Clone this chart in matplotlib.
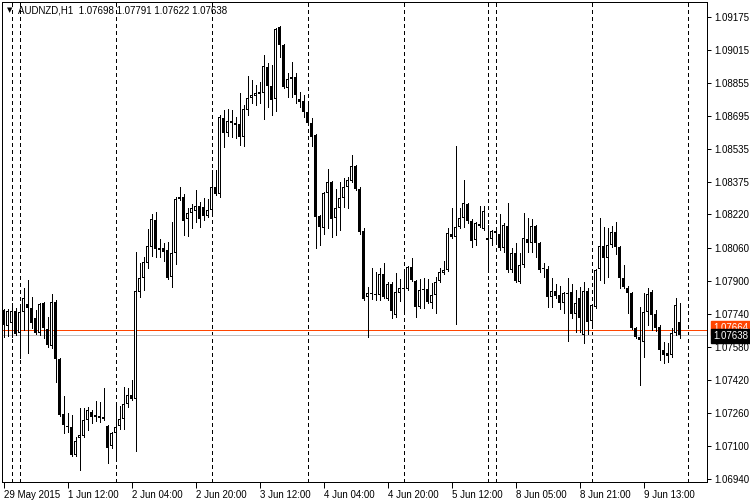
import matplotlib
matplotlib.use("Agg")
import matplotlib.pyplot as plt

plt.rcParams["font.family"] = ["Liberation Sans", "DejaVu Sans"]

# AUDNZD H1 bars, 29 May 2015 20:00 .. 9 Jun 2015 22:00
opens = [
    1.07759, 1.07681, 1.07696, 1.07754, 1.07648, 1.07749, 1.07788, 1.07768, 1.07720, 1.07648,
    1.07793, 1.07667, 1.07585, 1.07797, 1.07522, 1.07256, 1.07198, 1.07194, 1.07058, 1.07140,
    1.07150, 1.07227, 1.07266, 1.07242, 1.07247, 1.07242, 1.07198, 1.07102, 1.07165, 1.07198,
    1.07232, 1.07305, 1.07348, 1.07329, 1.07846, 1.07913, 1.07986, 1.08063, 1.08193, 1.08058,
    1.08058, 1.08048, 1.07918, 1.08034, 1.08295, 1.08304, 1.08198, 1.08227, 1.08237, 1.08261,
    1.08256, 1.08213, 1.08242, 1.08353, 1.08319, 1.08686, 1.08614, 1.08672, 1.08662, 1.08657,
    1.08594, 1.08725, 1.08783, 1.08792, 1.08812, 1.08807, 1.08932, 1.08841, 1.08778, 1.09126,
    1.09039, 1.08831, 1.08884, 1.08884, 1.08778, 1.08768, 1.08715, 1.08662, 1.08604, 1.08213,
    1.08155, 1.08324, 1.08377, 1.08203, 1.08251, 1.08300, 1.08353, 1.08382, 1.08454, 1.08343,
    1.08140, 1.07821, 1.07841, 1.07836, 1.07831, 1.07933, 1.07812, 1.07884, 1.07735, 1.07841,
    1.07865, 1.07860, 1.07966, 1.07899, 1.07773, 1.07860, 1.07860, 1.07793, 1.07831, 1.07899,
    1.07937, 1.07952, 1.08126, 1.08111, 1.08160, 1.08203, 1.08271, 1.08189, 1.08097, 1.08174,
    1.08150, 1.08106, 1.08102, 1.08140, 1.08126, 1.08058, 1.08164, 1.07952, 1.08034, 1.07894,
    1.07976, 1.08102, 1.08082, 1.08164, 1.08082, 1.07962, 1.07957, 1.07821, 1.07850, 1.07831,
    1.07793, 1.07841, 1.07846, 1.07739, 1.07817, 1.07638, 1.07850, 1.07706, 1.07773, 1.07957,
    1.08068, 1.08010, 1.08073, 1.08135, 1.08063, 1.07913, 1.07865, 1.07841, 1.07672, 1.07628,
    1.07604, 1.07749, 1.07846, 1.07739, 1.07677, 1.07565, 1.07551, 1.07541, 1.07648, 1.07698,
]
highs = [
    1.07764, 1.07764, 1.07793, 1.07768, 1.07768, 1.07865, 1.07904, 1.07821, 1.07759, 1.07793,
    1.07797, 1.07725, 1.07836, 1.07807, 1.07527, 1.07343, 1.07261, 1.07252, 1.07145, 1.07285,
    1.07285, 1.07290, 1.07276, 1.07319, 1.07314, 1.07382, 1.07203, 1.07169, 1.07314, 1.07295,
    1.07387, 1.07382, 1.07421, 1.08039, 1.07986, 1.08015, 1.08150, 1.08222, 1.08232, 1.08102,
    1.08082, 1.08087, 1.08184, 1.08304, 1.08353, 1.08319, 1.08251, 1.08271, 1.08338, 1.08280,
    1.08300, 1.08295, 1.08435, 1.08435, 1.08701, 1.08725, 1.08730, 1.08725, 1.08691, 1.08807,
    1.08749, 1.08889, 1.08870, 1.08845, 1.08860, 1.08990, 1.08952, 1.08942, 1.09121, 1.09130,
    1.09043, 1.08903, 1.08957, 1.08903, 1.08812, 1.08797, 1.08749, 1.08686, 1.08609, 1.08218,
    1.08329, 1.08440, 1.08382, 1.08343, 1.08377, 1.08396, 1.08401, 1.08507, 1.08459, 1.08353,
    1.08155, 1.07870, 1.07962, 1.07942, 1.07962, 1.07986, 1.07894, 1.07894, 1.07937, 1.07908,
    1.07937, 1.07971, 1.08010, 1.07904, 1.07908, 1.07913, 1.07908, 1.07889, 1.07918, 1.07962,
    1.07995, 1.08155, 1.08251, 1.08551, 1.08251, 1.08387, 1.08276, 1.08198, 1.08184, 1.08261,
    1.08261, 1.08169, 1.08145, 1.08150, 1.08222, 1.08179, 1.08276, 1.08058, 1.08082, 1.08034,
    1.08227, 1.08203, 1.08198, 1.08169, 1.08087, 1.07986, 1.07971, 1.07913, 1.07884, 1.07875,
    1.07846, 1.07913, 1.07884, 1.07855, 1.07870, 1.07894, 1.07865, 1.07788, 1.07957, 1.08203,
    1.08160, 1.08155, 1.08164, 1.08184, 1.08068, 1.07976, 1.07875, 1.07846, 1.07677, 1.07773,
    1.07841, 1.07865, 1.07855, 1.07759, 1.07686, 1.07604, 1.07599, 1.07672, 1.07817, 1.07791,
]
lows = [
    1.07628, 1.07633, 1.07628, 1.07638, 1.07527, 1.07662, 1.07551, 1.07672, 1.07643, 1.07638,
    1.07623, 1.07580, 1.07575, 1.07411, 1.07247, 1.07165, 1.07169, 1.07054, 1.07054, 1.06986,
    1.07145, 1.07179, 1.07213, 1.07223, 1.07218, 1.07227, 1.07020, 1.07092, 1.07034, 1.07184,
    1.07184, 1.07290, 1.07324, 1.07078, 1.07821, 1.07855, 1.07962, 1.08020, 1.08015, 1.08015,
    1.07995, 1.07908, 1.07870, 1.07981, 1.08290, 1.08121, 1.08116, 1.08155, 1.08184, 1.08160,
    1.08193, 1.08208, 1.08232, 1.08314, 1.08304, 1.08546, 1.08599, 1.08594, 1.08589, 1.08556,
    1.08551, 1.08701, 1.08759, 1.08749, 1.08759, 1.08681, 1.08739, 1.08701, 1.08720, 1.08981,
    1.08831, 1.08787, 1.08787, 1.08759, 1.08739, 1.08691, 1.08652, 1.08551, 1.08058, 1.08073,
    1.08126, 1.08155, 1.08111, 1.08121, 1.08145, 1.08256, 1.08251, 1.08377, 1.08338, 1.08126,
    1.07807, 1.07628, 1.07812, 1.07807, 1.07807, 1.07817, 1.07807, 1.07720, 1.07725, 1.07802,
    1.07749, 1.07855, 1.07899, 1.07725, 1.07768, 1.07768, 1.07793, 1.07768, 1.07744, 1.07894,
    1.07933, 1.07947, 1.08106, 1.07691, 1.08155, 1.08160, 1.08179, 1.08063, 1.08073, 1.08160,
    1.08145, 1.07962, 1.08073, 1.08097, 1.08048, 1.08039, 1.07942, 1.07942, 1.07894, 1.07889,
    1.07966, 1.08039, 1.08039, 1.08015, 1.07942, 1.07918, 1.07773, 1.07773, 1.07817, 1.07764,
    1.07744, 1.07609, 1.07720, 1.07652, 1.07652, 1.07599, 1.07643, 1.07691, 1.07768, 1.07904,
    1.07889, 1.07918, 1.08063, 1.08029, 1.07865, 1.07865, 1.07744, 1.07667, 1.07623, 1.07396,
    1.07532, 1.07686, 1.07662, 1.07657, 1.07517, 1.07503, 1.07508, 1.07532, 1.07638, 1.07622,
]
closes = [
    1.07686, 1.07754, 1.07754, 1.07643, 1.07749, 1.07817, 1.07768, 1.07696, 1.07648, 1.07788,
    1.07672, 1.07590, 1.07797, 1.07522, 1.07252, 1.07203, 1.07194, 1.07058, 1.07126, 1.07155,
    1.07227, 1.07276, 1.07242, 1.07252, 1.07237, 1.07232, 1.07092, 1.07165, 1.07194, 1.07232,
    1.07305, 1.07348, 1.07329, 1.07850, 1.07913, 1.07991, 1.08068, 1.08198, 1.08053, 1.08048,
    1.08039, 1.07913, 1.08034, 1.08295, 1.08304, 1.08189, 1.08227, 1.08251, 1.08261, 1.08198,
    1.08213, 1.08242, 1.08353, 1.08319, 1.08691, 1.08614, 1.08672, 1.08662, 1.08652, 1.08594,
    1.08730, 1.08783, 1.08797, 1.08807, 1.08802, 1.08937, 1.08841, 1.08773, 1.09116, 1.09039,
    1.08836, 1.08874, 1.08874, 1.08797, 1.08763, 1.08715, 1.08662, 1.08594, 1.08208, 1.08160,
    1.08324, 1.08377, 1.08198, 1.08251, 1.08300, 1.08353, 1.08387, 1.08454, 1.08343, 1.08135,
    1.07812, 1.07841, 1.07836, 1.07831, 1.07933, 1.07821, 1.07884, 1.07754, 1.07846, 1.07865,
    1.07860, 1.07966, 1.07904, 1.07773, 1.07855, 1.07855, 1.07797, 1.07831, 1.07894, 1.07942,
    1.07952, 1.08131, 1.08111, 1.08160, 1.08203, 1.08276, 1.08189, 1.08092, 1.08179, 1.08164,
    1.08237, 1.08097, 1.08140, 1.08131, 1.08058, 1.08169, 1.07952, 1.08034, 1.07899, 1.07976,
    1.08106, 1.08082, 1.08164, 1.08082, 1.07952, 1.07957, 1.07821, 1.07850, 1.07826, 1.07793,
    1.07841, 1.07836, 1.07739, 1.07793, 1.07720, 1.07850, 1.07701, 1.07783, 1.07952, 1.08068,
    1.08010, 1.08073, 1.08135, 1.08063, 1.07913, 1.07870, 1.07841, 1.07672, 1.07628, 1.07614,
    1.07749, 1.07836, 1.07735, 1.07672, 1.07565, 1.07541, 1.07537, 1.07648, 1.07783, 1.07638,
]

tick_idx = [0, 16, 32, 48, 64, 80, 96, 112, 128, 144, 160]
tick_labels = ["29 May 2015", "1 Jun 12:00", "2 Jun 04:00", "2 Jun 20:00",
               "3 Jun 12:00", "4 Jun 04:00", "4 Jun 20:00", "5 Jun 12:00",
               "8 Jun 05:00", "8 Jun 21:00", "9 Jun 13:00"]
separators = [2, 4, 28, 52, 76, 100, 121, 123, 147, 171]
price_ticks = [1.09175, 1.09015, 1.08855, 1.08695, 1.08535, 1.08375, 1.08220,
               1.08060, 1.07900, 1.07740, 1.07580, 1.07420, 1.07260, 1.07100,
               1.06940]
level_price = 1.07664
bid_price = 1.07638

W, H = 750, 500
LW = 0.72  # one pixel at 100 dpi
fig = plt.figure(figsize=(W / 100, H / 100), dpi=100)
ax = fig.add_axes([2 / W, 18 / H, 705 / W, 480 / H])
# 4 px per bar, bar centres on pixel centres
ax.set_xlim(-0.375, -0.375 + 705 / 4)
ax.set_ylim(1.069276, 1.092460)
px_price = (1.092460 - 1.069276) / 480

# day separators
for s in separators:
    ax.axvline(s, color="black", lw=LW, linestyle=(0, (4, 4)), zorder=1,
               antialiased=False)

ax.axhline(level_price, color="#FF4500", lw=LW, zorder=1.5, antialiased=False)
ax.axhline(bid_price, color="#C0C0C0", lw=LW, zorder=1.5, antialiased=False)

idx = list(range(len(opens)))
ax.vlines(idx, lows, highs, color="black", lw=LW, zorder=2, antialiased=False)

# candle bodies: 3 px black box, bullish ones hollowed out with a white core
bottoms = [min(o, c) for o, c in zip(opens, closes)]
tops = [max(o, c) for o, c in zip(opens, closes)]
heights = [max(t - b, px_price) for b, t in zip(bottoms, tops)]
ax.bar(idx, heights, bottom=bottoms, width=0.75, color="black",
       linewidth=0, zorder=3, antialiased=False)
up = [i for i in idx if closes[i] > opens[i] and tops[i] - bottoms[i] > 2.5 * px_price]
ax.bar(up, [tops[i] - bottoms[i] - 2 * px_price for i in up],
       bottom=[bottoms[i] + px_price for i in up], width=0.25, color="white",
       linewidth=0, zorder=4, antialiased=False)

ax.yaxis.tick_right()
ax.set_yticks(price_ticks)
ax.set_yticklabels([f"{p:.5f}" for p in price_ticks])
ax.set_xticks(tick_idx)
ax.set_xticklabels(tick_labels)
for lab in ax.get_xticklabels():
    lab.set_horizontalalignment("left")
ax.tick_params(axis="y", direction="out", length=3, width=LW, pad=2, labelsize=7)
ax.tick_params(axis="x", direction="out", length=4, width=LW, pad=2, labelsize=7)
for sp in ax.spines.values():
    sp.set_linewidth(LW)

# header
ax.text(0.007, 0.983, "\u25bc", transform=ax.transAxes, fontsize=5,
        family="DejaVu Sans", va="center", ha="left")
ax.text(0.0225, 0.983,
        f"AUDNZD,H1  {opens[-1]:.5f} {highs[-1]:.5f} {lows[-1]:.5f} {closes[-1]:.5f}",
        transform=ax.transAxes, fontsize=7, va="center", ha="left")

# price labels on the right
yt = ax.get_yaxis_transform()
ax.text(1.009, level_price + 0.00009, f"{level_price:.5f}", transform=yt,
        fontsize=7, color="white", va="center", ha="left", clip_on=False,
        bbox=dict(boxstyle="square,pad=0.2", facecolor="#FF4500", edgecolor="#FF4500"),
        zorder=5)
ax.text(1.009, bid_price - 0.00004, f"{bid_price:.5f}", transform=yt,
        fontsize=7, color="white", va="center", ha="left", clip_on=False,
        bbox=dict(boxstyle="square,pad=0.2", facecolor="black", edgecolor="black"),
        zorder=6)

fig.savefig("out.png", dpi=100)
